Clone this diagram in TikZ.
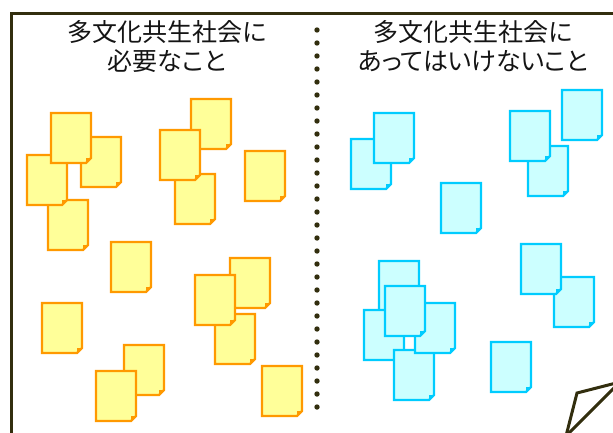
\documentclass[tikz,border=0pt]{standalone}
\usepackage{fontspec}
\newfontfamily\cjk[RawFeature=+palt]{Noto Sans CJK JP}
\definecolor{frameC}{RGB}{50,46,14}
\definecolor{yb}{RGB}{255,153,0}
\definecolor{yf}{RGB}{255,255,153}
\definecolor{cb}{RGB}{0,204,255}
\definecolor{cf}{RGB}{204,255,255}
\definecolor{txt}{RGB}{20,20,20}
\tikzset{
  framestyle/.style={draw=frameC, line width=3pt},
  title/.style={align=center, text=txt, font=\cjk\fontsize{25}{29}\selectfont, inner sep=0pt},
  dotstyle/.style={fill=frameC},
  pics/note/.style 2 args={code={
    \draw[line width=2.2pt, draw=#1, fill=#2, line join=miter]
      (0,0) -- (40,0) -- (40,45) -- (35,50) -- (0,50) -- cycle;
    \fill[#1] (35,50) -- (40,45) -- (35,45) -- cycle;
  }},
}
\begin{document}
\begin{tikzpicture}[x=1pt,y=-1pt]
\useasboundingbox (0,0) rectangle (613,432);
\clip (0,0) rectangle (613,432);
% frame
\draw[framestyle] (11,440) -- (11,13) -- (620,13);
% dotted divider
\foreach \i in {0,...,29}{
  \fill[dotstyle] (317,30+13*\i) circle (2.7);
}
% titles
\node[title] (tl) at (167,46) {多文化共生社会に\\必要なこと};
\node[title] (tr) at (473,46) {多文化共生社会に\\あってはいけないこと};
% yellow notes
\foreach \x/\y in {81/137,48/200,27/155,51/113,111/242,175/174,191/99,160/130,245/151,42/303,124/345,96/371,230/258,215/314,195/275,262/366}{
  \pic at (\x,\y) {note={yb}{yf}};
}
% cyan notes
\foreach \x/\y in {351/139,374/113,441/183,528/146,510/111,562/90,379/261,364/310,394/350,415/303,385/286,554/277,521/244,491/342}{
  \pic at (\x,\y) {note={cb}{cf}};
}
% page curl at bottom right
\draw[framestyle, line join=miter] (566,436) -- (577,393) -- (620,382);
\draw[framestyle] (620,382) -- (566,436);
\end{tikzpicture}
\end{document}
